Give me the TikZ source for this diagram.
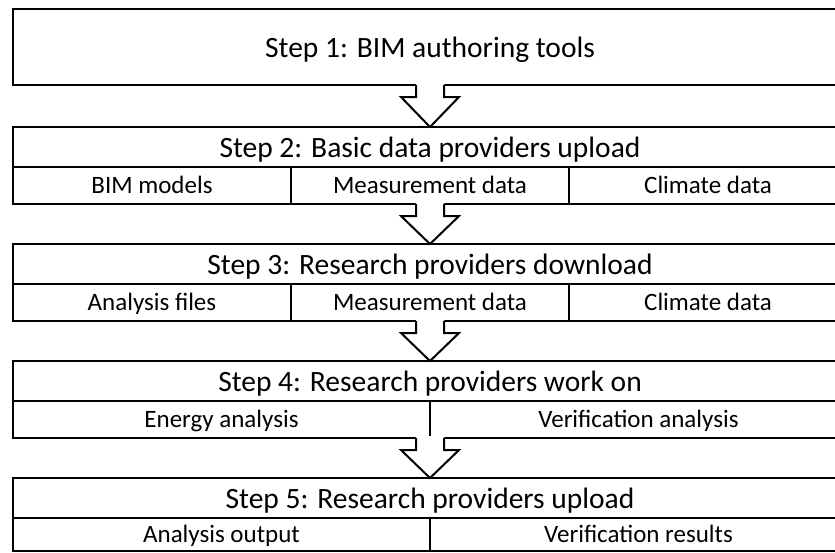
\documentclass[tikz,border=0pt]{standalone}
\usepackage{fontspec}
\setmainfont{Carlito}
\usetikzlibrary{positioning,calc}

\begin{document}
\begin{tikzpicture}[x=1pt,y=1pt]
\tikzset{
  head/.style={draw,line width=2pt,outer sep=0pt,minimum width=834pt,minimum height=40pt,inner sep=0pt,
    text height=22pt,text depth=2pt,font=\fontsize{29.5}{34}\selectfont},
  cell/.style={draw,line width=2pt,outer sep=0pt,minimum height=37pt,inner sep=0pt,
    text height=18pt,text depth=2pt,font=\fontsize{25}{29}\selectfont},
  third/.style={cell,minimum width=278pt},
  half/.style={cell,minimum width=417pt}
}
\useasboundingbox (0,0) rectangle (835,-552);

% Step 1
\node[head,minimum height=76pt] (s1) at (430,-47) {Step 1: BIM authoring tools};

% Step 2
\node[head] (s2) at (430,-147) {Step 2: Basic data providers upload};
\node[third,below right=0pt of s2.south west] (s2a) {BIM models};
\node[third,right=0pt of s2a] (s2b) {Measurement data};
\node[third,right=0pt of s2b] (s2c) {Climate data};

% Step 3
\node[head] (s3) at (430,-264) {Step 3: Research providers download};
\node[third,below right=0pt of s3.south west] (s3a) {Analysis files};
\node[third,right=0pt of s3a] (s3b) {Measurement data};
\node[third,right=0pt of s3b] (s3c) {Climate data};

% Step 4
\node[head] (s4) at (430,-381) {Step 4: Research providers work on};
\node[half,below right=0pt of s4.south west] (s4a) {Energy analysis};
\node[half,right=0pt of s4a] (s4b) {Verification analysis};

% Step 5
\node[head] (s5) at (430,-498) {Step 5: Research providers upload};
\node[half,minimum height=33pt,below right=0pt of s5.south west] (s5a) {Analysis output};
\node[half,minimum height=33pt,right=0pt of s5a] (s5b) {Verification results};

% arrows between the steps
\foreach \hd/\rw/\nx in {s1/s1/s2, s2/s2a/s3, s3/s3a/s4, s4/s4a/s5}{
  \coordinate (t) at (\hd |- \rw.south);
  \fill[white] ($(t)+(-14,2)$) -- ($(t)+(-14,-12)$) -- ($(t)+(-29,-12)$) -- (\nx.north)
    -- ($(t)+(29,-12)$) -- ($(t)+(14,-12)$) -- ($(t)+(14,2)$) -- cycle;
  \draw[line width=2pt] ($(t)+(-14,0)$) -- ($(t)+(-14,-12)$) -- ($(t)+(-29,-12)$) -- (\nx.north)
    -- ($(t)+(29,-12)$) -- ($(t)+(14,-12)$) -- ($(t)+(14,0)$);
}
\end{tikzpicture}
\end{document}
